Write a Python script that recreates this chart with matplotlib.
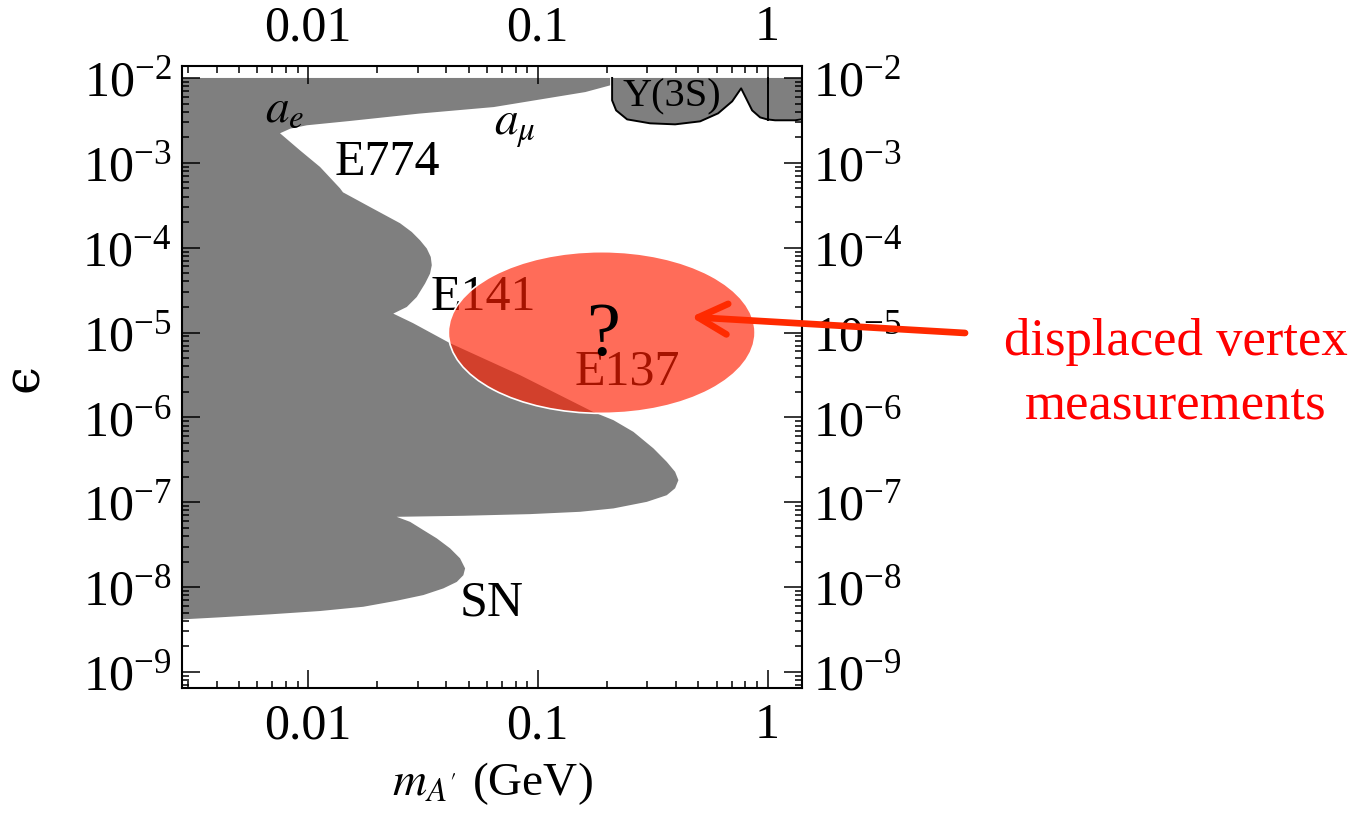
import numpy as np
import matplotlib.pyplot as plt
from matplotlib.patches import Ellipse, FancyArrowPatch
from matplotlib.ticker import LogLocator, NullFormatter, FixedLocator

plt.rcParams['font.family'] = ['Liberation Serif', 'DejaVu Serif']
plt.rcParams['mathtext.fontset'] = 'stix'

# edge of the excluded region, walked from the a_mu band down through
# the E774, E141, E137 and SN lobes to the left edge
bound_m = [0.2065, 0.161, 0.0643, 0.0304, 0.0150, 0.00989, 0.00838, 0.00755,
           # E774
           0.00923, 0.01128, 0.01377, 0.01419, 0.01862, 0.02515, 0.02828, 0.03073,
           0.03288, 0.03421, 0.03456, 0.03397, 0.03231, 0.02972, 0.02690, 0.02349,
           # E141 / E137
           0.02864, 0.0415, 0.0838, 0.174, 0.2134, 0.2607, 0.3187, 0.3643, 0.3960,
           0.4093, 0.3960, 0.3643, 0.2982, 0.2134, 0.1528, 0.0926, 0.0474, 0.0243,
           # SN
           0.0278, 0.03177, 0.03633, 0.04151, 0.04588, 0.04826, 0.04743, 0.04440,
           0.03882, 0.03177, 0.0243, 0.0174, 0.01127, 0.00683, 0.00414, 0.00287]
bound_eps = [8.18e-3, 6.82e-3, 4.54e-3, 3.80e-3, 3.10e-3, 2.77e-3, 2.53e-3, 2.23e-3,
             1.40e-3, 8.93e-4, 5.01e-4, 4.49e-4, 3.01e-4, 1.94e-4, 1.53e-4, 1.22e-4,
             9.76e-5, 7.77e-5, 6.21e-5, 4.95e-5, 3.78e-5, 2.62e-5, 2.00e-5, 1.67e-5,
             1.29e-5, 7.48e-6, 3.14e-6, 1.16e-6, 9.27e-7, 6.75e-7, 4.31e-7, 2.99e-7, 2.28e-7,
             1.82e-7, 1.46e-7, 1.21e-7, 1.01e-7, 8.45e-8, 7.71e-8, 7.24e-8, 6.92e-8, 6.73e-8,
             5.87e-8, 4.69e-8, 3.75e-8, 2.86e-8, 2.18e-8, 1.66e-8, 1.38e-8, 1.15e-8,
             9.65e-9, 8.05e-9, 6.90e-9, 5.86e-9, 5.22e-9, 4.77e-9, 4.40e-9, 4.17e-9]

# Upsilon(3S) search region (lower edge)
ups_m = [0.2106, 0.2106, 0.2193, 0.2448, 0.3083, 0.3961, 0.5088, 0.6095, 0.7016,
         0.7674, 0.8069, 0.857, 0.9285, 0.996, 1.079, 1.319, 1.5]
ups_eps = [1e-2, 5.45e-3, 4.15e-3, 3.25e-3, 2.92e-3, 2.84e-3, 3.08e-3, 3.83e-3, 5.30e-3,
           7.54e-3, 5.75e-3, 4.15e-3, 3.43e-3, 3.25e-3, 3.17e-3, 3.17e-3, 3.34e-3]
ups_split = 1.0

eps_top = 1e-2
m_left = 0.002

labels = ['$a_e$', r'$a_\mu$', 'E774', 'E141', 'E137', 'SN', 'Υ(3S)']
label_m = [0.00794, 0.0796, 0.0221, 0.0578, 0.245, 0.0632, 0.3843]
label_eps = [4.15e-3, 2.55e-3, 1.01e-3, 2.54e-5, 3.40e-6, 6.47e-9, 5.91e-3]
label_size = [34, 34, 36, 36, 36, 36, 29]

y_major = [1e-9, 1e-8, 1e-7, 1e-6, 1e-5, 1e-4, 1e-3, 1e-2]

fig = plt.figure(figsize=(13.56, 8.23), dpi=100)
ax = fig.add_axes([0.1345, 0.1644, 0.4566, 0.7550])
ax.set_xscale('log')
ax.set_yscale('log')

gray = '#7f7f7f'
poly_m = [m_left, bound_m[0]] + bound_m + [m_left]
poly_eps = [eps_top, eps_top] + bound_eps + [bound_eps[-1]]
ax.fill(poly_m, poly_eps, color=gray, lw=0, zorder=1)

ax.fill(ups_m + [ups_m[-1]], ups_eps + [eps_top], color=gray, lw=0, zorder=1)
ax.plot(ups_m, ups_eps, color='k', lw=1.4, zorder=2)
ax.plot([ups_split, ups_split], [min(ups_eps[13:15]), eps_top], color='k', lw=1.4, zorder=2)

for txt, m, e, s in zip(labels, label_m, label_eps, label_size):
    ax.text(m, e, txt, fontsize=s, ha='center', va='center', zorder=3)

ax.set_xlim(10**-2.547, 10**0.148)
ax.set_ylim(10**-9.186, 10**-1.863)

ax.set_xticks([0.01, 0.1, 1], labels=['0.01', '0.1', '1'])
ax.xaxis.set_minor_locator(LogLocator(base=10, subs=np.arange(2, 10), numticks=20))
ax.xaxis.set_minor_formatter(NullFormatter())
ax.yaxis.set_major_locator(FixedLocator(y_major))
ax.yaxis.set_minor_locator(LogLocator(base=10, subs=np.arange(2, 10), numticks=20))
ax.yaxis.set_minor_formatter(NullFormatter())
ax.yaxis.offsetText.set_visible(False)
ax.xaxis.offsetText.set_visible(False)

ax.tick_params(which='both', direction='in', top=True, right=True,
               labeltop=True, labelright=True, width=1.1, colors='k')
ax.tick_params(which='major', length=13, labelsize=36, pad=8)
ax.tick_params(axis='x', which='major', pad=11)
ax.tick_params(which='minor', length=5)
for sp in ax.spines.values():
    sp.set_linewidth(1.5)

ax.set_xlabel(r"$m_{A'}$ (GeV)", fontsize=34, labelpad=8)
ax.set_ylabel('ϵ', fontsize=36, family=['DejaVu Serif'])
ax.yaxis.set_label_coords(-0.215, 0.498)

# highlighted region for displaced-vertex searches
ax.add_patch(Ellipse((0.6773, 0.5716), 0.4954, 0.2602, transform=ax.transAxes,
                     facecolor=(1, 0.118, 0, 0.65), edgecolor='white', lw=1.2, zorder=5))
ax.text(0.6794, 0.566, '?', transform=ax.transAxes, fontsize=55,
        ha='center', va='center', zorder=6)

fig.add_artist(FancyArrowPatch((0.7117, 0.5954), (0.5096, 0.6148),
                               transform=fig.transFigure,
                               arrowstyle='->,head_length=2.1,head_width=1.1',
                               mutation_scale=10, lw=4.8, color='#ff2a00',
                               shrinkA=0, shrinkB=0, capstyle='round', joinstyle='round'))
fig.text(0.8673, 0.5687, 'displaced vertex', color='red', fontsize=38,
         ha='center', va='baseline')
fig.text(0.8673, 0.4921, 'measurements', color='red', fontsize=38,
         ha='center', va='baseline')

fig.savefig('out.png', dpi=100)
